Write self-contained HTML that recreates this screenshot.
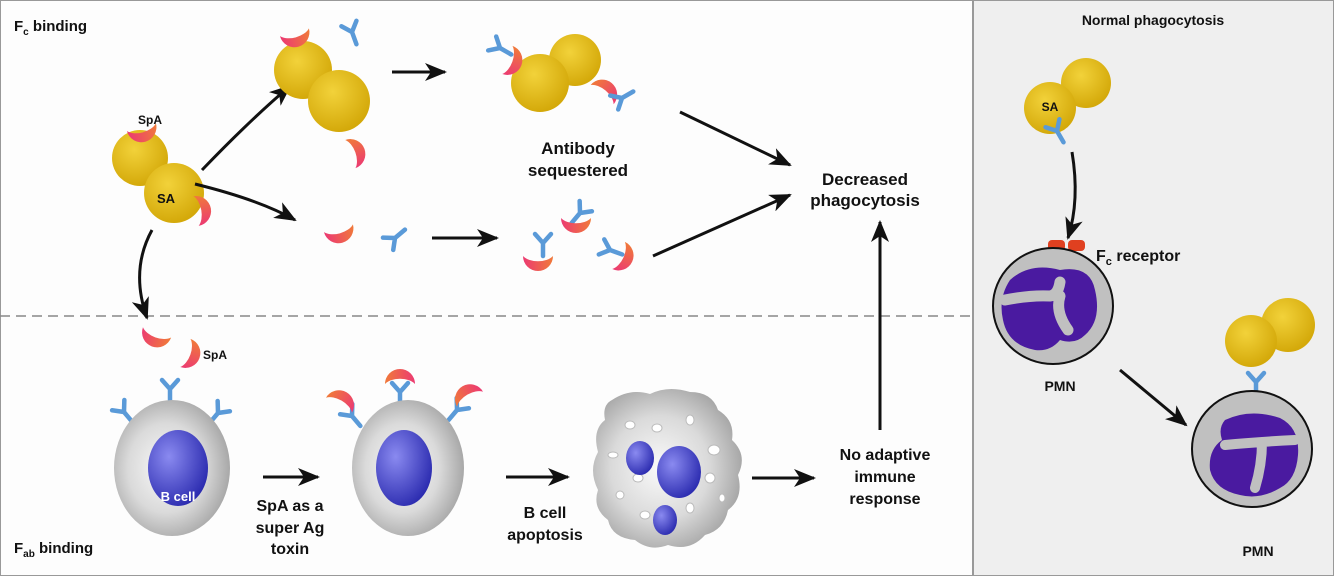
<!DOCTYPE html>
<html><head><meta charset="utf-8"><style>
html,body{margin:0;padding:0;background:#fff}
svg{display:block}
text{font-family:"Liberation Sans",Arial,sans-serif;font-weight:bold;fill:#111}
</style></head><body>
<svg width="1334" height="576" viewBox="0 0 1334 576" xmlns="http://www.w3.org/2000/svg">
<defs>
<radialGradient id="yb" cx="40%" cy="35%" r="65%"><stop offset="0" stop-color="#f2d23a"/><stop offset="1" stop-color="#d4a90a"/></radialGradient>
<linearGradient id="cr" x1="0" x2="1"><stop offset="0" stop-color="#ec3a72"/><stop offset="1" stop-color="#f07a3a"/></linearGradient>
<radialGradient id="cell" cx="45%" cy="50%" r="55%"><stop offset="0" stop-color="#fafafa"/><stop offset="0.6" stop-color="#dadada"/><stop offset="1" stop-color="#a8a8a8"/></radialGradient>
<radialGradient id="nuc" cx="35%" cy="35%" r="70%"><stop offset="0" stop-color="#8a8af0"/><stop offset="1" stop-color="#2c2cb0"/></radialGradient>
<marker id="ahb" markerWidth="22" markerHeight="18" refX="20" refY="9" orient="auto" markerUnits="userSpaceOnUse" viewBox="0 0 22 18"><path d="M0,0 L22,9 L0,18 L6,9Z" fill="#111"/></marker>
<path id="c" d="M-15,-6 A15,15 0 0 0 15,-6 A17,10 0 0 1 -15,-6Z" fill="url(#cr)"/>
<g id="y" stroke="#5a9ad8" stroke-width="4.5" stroke-linecap="round" fill="none"><path d="M0,0 L0,13 M0,0 L-8,-9 M0,0 L8,-9"/></g>
</defs>
<rect x="0" y="0" width="973" height="576" fill="#fdfdfd"/>
<rect x="973" y="0" width="361" height="576" fill="#efefef"/>
<rect x="0.5" y="0.5" width="1333" height="575" fill="none" stroke="#999"/>
<line x1="973" y1="0" x2="973" y2="576" stroke="#999" stroke-width="2"/>
<line x1="0" y1="316" x2="973" y2="316" stroke="#888" stroke-width="1.5" stroke-dasharray="10,6"/>

<text x="14" y="31" font-size="15">F<tspan font-size="10" dy="4">c</tspan><tspan dy="-4"> binding</tspan></text>
<text x="14" y="553" font-size="15">F<tspan font-size="10" dy="4">ab</tspan><tspan dy="-4"> binding</tspan></text>

<circle cx="140" cy="158" r="28" fill="url(#yb)"/>
<circle cx="174" cy="193" r="30" fill="url(#yb)"/>
<use href="#c" transform="translate(143,133) rotate(-15)"/>
<text x="138" y="124" font-size="12">SpA</text>
<text x="157" y="203" font-size="13">SA</text>
<use href="#c" transform="translate(202,210) rotate(-100)"/>

<path d="M202,170 Q250,120 290,86" fill="none" stroke="#111" stroke-width="3" marker-end="url(#ahb)"/>
<path d="M195,184 Q260,200 295,220" fill="none" stroke="#111" stroke-width="3" marker-end="url(#ahb)"/>
<path d="M152,230 Q130,270 147,318" fill="none" stroke="#111" stroke-width="3" marker-end="url(#ahb)"/>

<circle cx="303" cy="70" r="29" fill="url(#yb)"/>
<circle cx="339" cy="101" r="31" fill="url(#yb)"/>
<use href="#c" transform="translate(296,38) rotate(-15)"/>
<use href="#y" transform="translate(352,32) rotate(-20)"/>
<use href="#c" transform="translate(356,152) rotate(-110)"/>
<line x1="392" y1="72" x2="445" y2="72" stroke="#111" stroke-width="3" marker-end="url(#ahb)"/>

<circle cx="575" cy="60" r="26" fill="url(#yb)"/>
<circle cx="540" cy="83" r="29" fill="url(#yb)"/>
<use href="#y" transform="translate(500,48) rotate(-60)"/>
<use href="#c" transform="translate(513,62) rotate(-70)"/>
<use href="#c" transform="translate(606,90) rotate(-140)"/>
<use href="#y" transform="translate(622,98) rotate(-120)"/>
<text x="578" y="154" font-size="17" text-anchor="middle">Antibody</text>
<text x="578" y="176" font-size="17" text-anchor="middle">sequestered</text>

<use href="#c" transform="translate(340,234) rotate(-15)"/>
<use href="#y" transform="translate(395,238) rotate(-130)"/>
<line x1="432" y1="238" x2="497" y2="238" stroke="#111" stroke-width="3" marker-end="url(#ahb)"/>
<use href="#y" transform="translate(543,243)"/>
<use href="#c" transform="translate(538,262)"/>
<use href="#y" transform="translate(580,213) rotate(40)"/>
<use href="#c" transform="translate(576,224)"/>
<use href="#y" transform="translate(610,250) rotate(-70)"/>
<use href="#c" transform="translate(624,258) rotate(-65)"/>

<line x1="680" y1="112" x2="790" y2="165" stroke="#111" stroke-width="3" marker-end="url(#ahb)"/>
<line x1="653" y1="256" x2="790" y2="195" stroke="#111" stroke-width="3" marker-end="url(#ahb)"/>
<text x="865" y="185" font-size="17" text-anchor="middle">Decreased</text>
<text x="865" y="206" font-size="17" text-anchor="middle">phagocytosis</text>
<line x1="880" y1="430" x2="880" y2="222" stroke="#111" stroke-width="3" marker-end="url(#ahb)"/>

<use href="#c" transform="translate(155,338) rotate(20)"/>
<use href="#c" transform="translate(191,355) rotate(-70)"/>
<text x="203" y="359" font-size="12">SpA</text>
<use href="#y" transform="translate(124,412) rotate(-40)"/>
<use href="#y" transform="translate(170,389)"/>
<use href="#y" transform="translate(218,413) rotate(40)"/>
<ellipse cx="172" cy="468" rx="58" ry="68" fill="url(#cell)"/>
<ellipse cx="178" cy="468" rx="30" ry="38" fill="url(#nuc)"/>
<text x="178" y="501" font-size="13" style="fill:#fff" text-anchor="middle">B cell</text>
<line x1="263" y1="477" x2="318" y2="477" stroke="#111" stroke-width="3" marker-end="url(#ahb)"/>
<text x="290" y="511" font-size="16" text-anchor="middle">SpA as a</text>
<text x="290" y="533" font-size="16" text-anchor="middle">super Ag</text>
<text x="290" y="554" font-size="16" text-anchor="middle">toxin</text>

<use href="#y" transform="translate(352,416) rotate(-40)"/>
<use href="#c" transform="translate(342,400) rotate(-150)"/>
<use href="#y" transform="translate(400,392)"/>
<use href="#c" transform="translate(400,378) rotate(180)"/>
<use href="#y" transform="translate(457,410) rotate(40)"/>
<use href="#c" transform="translate(467,394) rotate(150)"/>
<ellipse cx="408" cy="468" rx="56" ry="68" fill="url(#cell)"/>
<ellipse cx="404" cy="468" rx="28" ry="38" fill="url(#nuc)"/>
<line x1="506" y1="477" x2="568" y2="477" stroke="#111" stroke-width="3" marker-end="url(#ahb)"/>
<text x="545" y="518" font-size="16" text-anchor="middle">B cell</text>
<text x="545" y="540" font-size="16" text-anchor="middle">apoptosis</text>

<path d="M612,400 Q630,388 650,394 Q668,385 690,392 Q712,392 718,410 Q735,420 732,440 Q748,455 738,475 Q744,498 728,510 Q724,530 705,535 Q690,552 668,545 Q650,552 635,540 Q612,538 608,520 Q592,508 598,490 Q588,470 598,452 Q592,430 605,420 Q602,405 612,400Z" fill="url(#cell)"/>
<g fill="#fff" stroke="#bbb" stroke-width="1">
<ellipse cx="630" cy="425" rx="5" ry="4"/><ellipse cx="657" cy="428" rx="5" ry="4"/><ellipse cx="690" cy="420" rx="4" ry="5"/>
<ellipse cx="714" cy="450" rx="6" ry="5"/><ellipse cx="613" cy="455" rx="5" ry="3"/><ellipse cx="638" cy="478" rx="5" ry="4"/>
<ellipse cx="710" cy="478" rx="5" ry="5"/><ellipse cx="620" cy="495" rx="4" ry="4"/><ellipse cx="645" cy="515" rx="5" ry="4"/>
<ellipse cx="690" cy="508" rx="4" ry="5"/><ellipse cx="722" cy="498" rx="3" ry="4"/>
</g>
<ellipse cx="640" cy="458" rx="14" ry="17" fill="url(#nuc)"/>
<ellipse cx="679" cy="472" rx="22" ry="26" fill="url(#nuc)"/>
<ellipse cx="665" cy="520" rx="12" ry="15" fill="url(#nuc)"/>
<line x1="752" y1="478" x2="814" y2="478" stroke="#111" stroke-width="3" marker-end="url(#ahb)"/>
<text x="885" y="460" font-size="16" text-anchor="middle">No adaptive</text>
<text x="885" y="482" font-size="16" text-anchor="middle">immune</text>
<text x="885" y="504" font-size="16" text-anchor="middle">response</text>

<text x="1153" y="25" font-size="14" text-anchor="middle">Normal phagocytosis</text>
<circle cx="1086" cy="83" r="25" fill="url(#yb)"/>
<circle cx="1050" cy="108" r="26" fill="url(#yb)"/>
<text x="1050" y="111" font-size="12" text-anchor="middle">SA</text>
<use href="#y" transform="translate(1057,131) rotate(-30)"/>
<path d="M1072,152 Q1080,200 1068,238" fill="none" stroke="#111" stroke-width="3" marker-end="url(#ahb)"/>
<rect x="1048" y="240" width="17" height="11" rx="4" fill="#e04020"/>
<rect x="1068" y="240" width="17" height="11" rx="4" fill="#e04020"/>
<text x="1096" y="261" font-size="16">F<tspan font-size="11" dy="4">c</tspan><tspan dy="-4"> receptor</tspan></text>
<ellipse cx="1053" cy="306" rx="60" ry="58" fill="#c0c0c0" stroke="#111" stroke-width="2"/>
<path d="M1010,280 Q1030,262 1060,270 Q1090,265 1095,290 Q1102,320 1085,335 Q1075,345 1060,340 Q1050,352 1035,350 Q1008,345 1003,320 Q998,298 1010,280Z" fill="#4a1aa0"/>
<path d="M1005,300 Q1030,295 1050,296 Q1058,295 1060,282 M1060,296 Q1055,312 1068,330" fill="none" stroke="#c0c0c0" stroke-width="11" stroke-linecap="round"/>
<text x="1060" y="391" font-size="14" text-anchor="middle">PMN</text>
<line x1="1120" y1="370" x2="1186" y2="425" stroke="#111" stroke-width="3" marker-end="url(#ahb)"/>
<circle cx="1288" cy="325" r="27" fill="url(#yb)"/>
<circle cx="1251" cy="341" r="26" fill="url(#yb)"/>
<use href="#y" transform="translate(1256,382)"/>
<rect x="1237" y="400" width="17" height="11" rx="4" fill="#e04020"/>
<rect x="1257" y="400" width="17" height="11" rx="4" fill="#e04020"/>
<ellipse cx="1252" cy="449" rx="60" ry="58" fill="#c0c0c0" stroke="#111" stroke-width="2"/>
<path d="M1225,420 Q1250,408 1280,418 Q1300,428 1298,455 Q1296,480 1280,488 Q1260,500 1240,495 Q1215,490 1210,470 Q1208,450 1222,440 Q1218,428 1225,420Z" fill="#4a1aa0"/>
<path d="M1225,445 Q1255,442 1295,440 M1262,442 Q1262,465 1255,488" fill="none" stroke="#c0c0c0" stroke-width="10" stroke-linecap="round"/>
<text x="1258" y="556" font-size="14" text-anchor="middle">PMN</text>
</svg>
</body></html>
